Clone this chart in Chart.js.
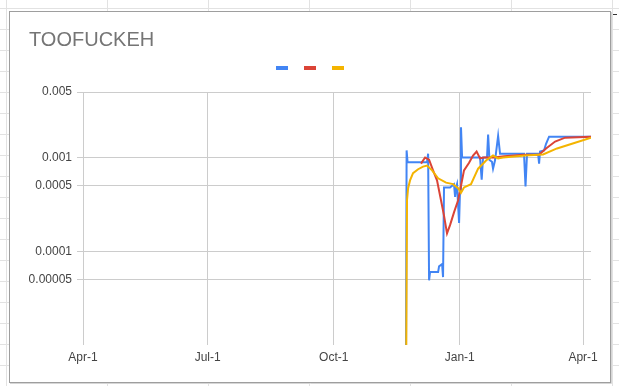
<!DOCTYPE html>
<html>
<head>
<meta charset="utf-8">
<script src="https://cdn.jsdelivr.net/npm/chart.js@4.4.1/dist/chart.umd.min.js"></script>
<style>
  html, body { margin: 0; padding: 0; background: #fff; }
  canvas { display: block; }
</style>
</head>
<body>
<canvas id="chart" width="619" height="386"></canvas>
<script>
// days counted from Apr-1 (2020)
const blueDays = [235.6, 236.2, 236.9, 251.1, 251.9, 252.6, 253.3, 259.2, 259.9, 262.1, 262.8, 263.5, 267.9, 270.8, 271.6, 272.3, 273.0, 274.5, 275.2, 275.9, 276.7, 289.8, 291.0, 292.0, 294.9, 295.7, 296.7, 298.5, 299.3, 300.8, 303.0, 304.4, 321.9, 323.0, 324.1, 332.2, 332.9, 333.6, 336.5, 338.0, 340.2, 370.8];
const blueValues = [0.000001, 0.00119, 0.00089, 0.00089, 0.0011, 0.000049, 0.00006, 0.00006, 0.000069, 0.000073, 0.000053, 0.00048, 0.00048, 0.00052, 0.00038, 0.00048, 0.00052, 0.0002, 0.00045, 0.0021, 0.001, 0.001, 0.00058, 0.001, 0.001, 0.00176, 0.00094, 0.0009, 0.00076, 0.00094, 0.0017, 0.0011, 0.0011, 0.00049, 0.0011, 0.0011, 0.00086, 0.00116, 0.00119, 0.0014, 0.00167, 0.00167];

const redDays = [246.7, 249.7, 252.6, 255.5, 258.4, 261.3, 263.5, 265.7, 267.9, 270.8, 273.8, 275.9, 278.1, 281.8, 284.7, 287.3, 289.8, 292.7, 300.0, 307.3, 321.9, 332.9, 338.0, 344.6, 351.9, 370.8];
const redValues = [0.00086, 0.001, 0.00095, 0.00073, 0.00057, 0.00035, 0.00024, 0.000155, 0.00019, 0.00026, 0.00035, 0.0005, 0.00073, 0.00088, 0.00105, 0.00116, 0.00098, 0.001, 0.001, 0.00103, 0.00107, 0.00107, 0.00125, 0.00148, 0.00163, 0.00167];

const yellowDays = [235.6, 236.5, 237.3, 238.7, 240.9, 244.6, 248.2, 251.1, 254.8, 259.2, 265.0, 270.1, 273.8, 275.9, 278.1, 283.2, 288.4, 294.2, 299.3, 303.0, 306.6, 322.7, 335.8, 346.0, 359.2, 370.8];
const yellowValues = [0.000001, 0.00035, 0.00047, 0.00057, 0.00068, 0.00075, 0.0008, 0.00082, 0.00073, 0.0006, 0.00054, 0.00052, 0.00047, 0.00042, 0.00048, 0.00052, 0.00076, 0.00093, 0.00105, 0.00098, 0.001, 0.00105, 0.00108, 0.00125, 0.00144, 0.00163];

const xTickDays = [0, 91, 183, 275, 365];
const xTickLabels = ['Apr-1', 'Jul-1', 'Oct-1', 'Jan-1', 'Apr-1'];
const yTickValues = [0.005, 0.001, 0.0005, 0.0001, 0.00005];

function points(days, values) {
  return days.map((d, i) => ({ x: d, y: values[i] }));
}

// spreadsheet behind the chart + chart frame
const sheetBackground = {
  id: 'sheetBackground',
  beforeDraw(chart) {
    const ctx = chart.ctx;
    ctx.save();
    ctx.fillStyle = '#fff';
    ctx.fillRect(0, 0, 619, 386);
    ctx.strokeStyle = '#e2e2e2';
    ctx.lineWidth = 1;
    ctx.beginPath();
    for (let x = 6; x < 619; x += 101) { ctx.moveTo(x + 0.5, 0); ctx.lineTo(x + 0.5, 386); }
    for (let y = 8; y < 386; y += 21) { ctx.moveTo(0, y + 0.5); ctx.lineTo(619, y + 0.5); }
    ctx.stroke();
    ctx.fillStyle = '#fff';
    ctx.fillRect(9, 11, 601, 371);
    ctx.strokeStyle = '#d6d6d6';
    ctx.beginPath();
    ctx.moveTo(611.5, 12); ctx.lineTo(611.5, 383.5); ctx.lineTo(10, 383.5);
    ctx.stroke();
    ctx.strokeStyle = '#9e9e9e';
    ctx.strokeRect(9.5, 11.5, 601, 371);
    ctx.fillStyle = '#333';
    ctx.fillRect(613, 14, 4, 1);
    ctx.restore();
  },
  afterLayout(chart) {
    chart.legend.left += 14;
  }
};

new Chart(document.getElementById('chart'), {
  type: 'line',
  data: {
    datasets: [
      { label: '', data: points(blueDays, blueValues), borderColor: '#4285f4', backgroundColor: '#4285f4', order: 3 },
      { label: '', data: points(redDays, redValues), borderColor: '#db4437', backgroundColor: '#db4437', order: 2 },
      { label: '', data: points(yellowDays, yellowValues), borderColor: '#f4b400', backgroundColor: '#f4b400', order: 1 }
    ]
  },
  options: {
    responsive: false,
    animation: false,
    layout: { padding: { left: 29, right: 28, top: 18, bottom: 0 } },
    elements: {
      line: { borderWidth: 2, tension: 0 },
      point: { radius: 0 }
    },
    plugins: {
      title: {
        display: true,
        text: 'TOOFUCKEH',
        align: 'start',
        color: '#757575',
        font: { family: "'Liberation Sans', Arial, sans-serif", size: 20, weight: 'normal' },
        padding: { top: 10, bottom: 0 }
      },
      legend: {
        display: true,
        labels: {
          boxWidth: 12,
          boxHeight: 4,
          padding: 2,
          font: { size: 28 },
          sort: (a, b) => a.datasetIndex - b.datasetIndex,
          generateLabels(chart) {
            const items = Chart.defaults.plugins.legend.labels.generateLabels(chart);
            items.forEach(it => { it.lineWidth = 0; it.text = ''; });
            return items;
          }
        }
      },
      tooltip: { enabled: false }
    },
    scales: {
      x: {
        type: 'linear',
        min: -4.4,
        max: 370.8,
        afterBuildTicks(scale) { scale.ticks = xTickDays.map(v => ({ value: v })); },
        afterFit(scale) { scale.height = 41; },
        ticks: {
          autoSkip: false,
          maxRotation: 0,
          padding: 5,
          color: '#444',
          font: { family: "'Liberation Sans', Arial, sans-serif", size: 12 },
          callback: (v) => xTickLabels[xTickDays.indexOf(v)]
        },
        grid: { color: '#cccccc', drawTicks: false },
        border: { display: false }
      },
      y: {
        type: 'logarithmic',
        min: 0.00001,
        max: 0.005,
        afterBuildTicks(scale) { scale.ticks = yTickValues.map(v => ({ value: v })); },
        afterFit(scale) { scale.width = 48; },
        ticks: {
          padding: 5,
          color: '#444',
          font: { family: "'Liberation Sans', Arial, sans-serif", size: 12 },
          callback: (v) => String(v)
        },
        grid: { color: '#cccccc', drawTicks: false },
        border: { display: false }
      }
    }
  },
  plugins: [sheetBackground]
});
</script>
</body>
</html>
